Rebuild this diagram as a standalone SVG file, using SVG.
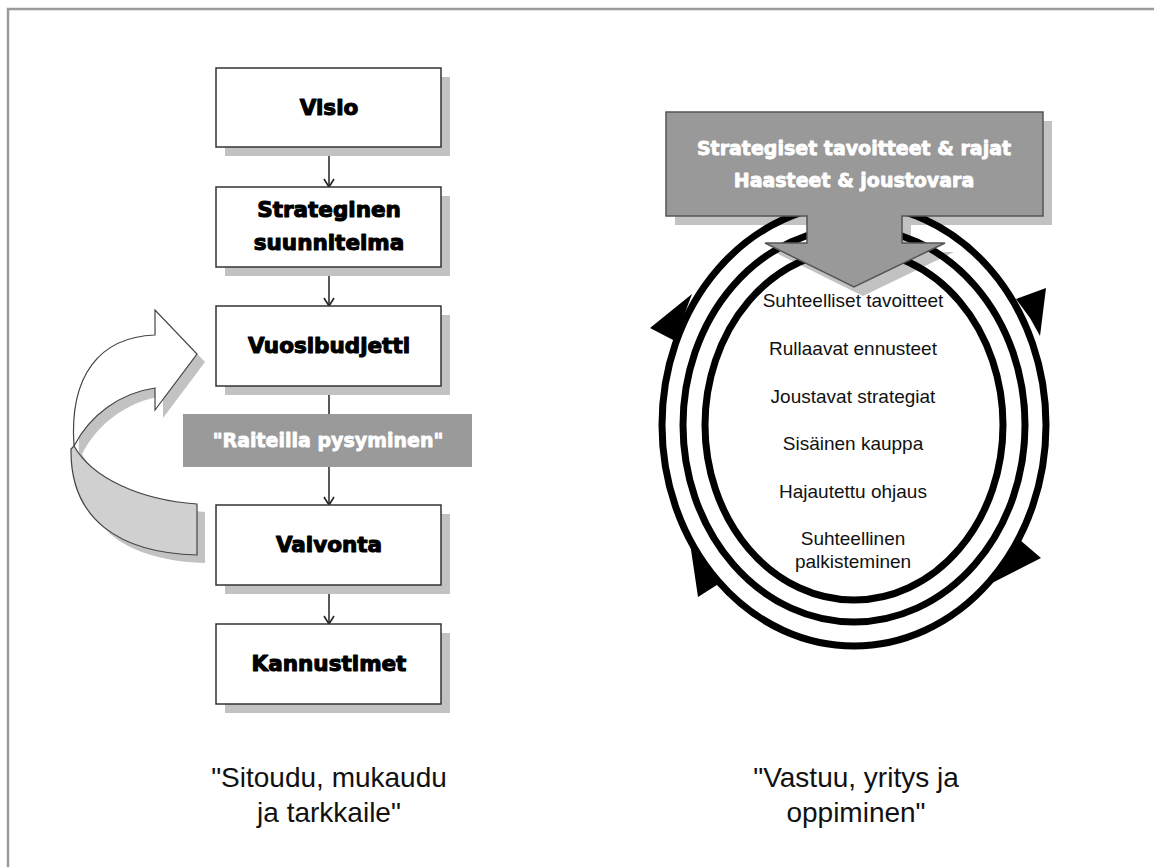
<svg xmlns="http://www.w3.org/2000/svg" width="1154" height="867" viewBox="0 0 1154 867">
<defs>
<style>
.box{fill:#fff;stroke:#333;stroke-width:1.5}
.shadow{fill:#c2c2c2}
.btxt{font-family:"DejaVu Sans",sans-serif;font-weight:bold;font-size:21.5px;fill:#000;stroke:#000;stroke-width:1.1;stroke-linejoin:round;text-anchor:middle}
.wtxt{font-family:"DejaVu Sans",sans-serif;font-weight:bold;font-size:19px;fill:#fff;stroke:#fff;stroke-width:0.8;stroke-linejoin:round;text-anchor:middle}
.rtxt{font-family:"Liberation Sans",Arial,sans-serif;font-size:19px;fill:#111;text-anchor:middle}
.cap{font-family:"Liberation Sans",Arial,sans-serif;font-size:28px;fill:#111;text-anchor:middle}
.conn{stroke:#222;stroke-width:1.5;fill:none}
.ring{fill:none;stroke:#000;stroke-width:7}
</style>
<marker id="arr" viewBox="0 0 12 12" refX="11" refY="6" markerWidth="12" markerHeight="12" markerUnits="userSpaceOnUse" orient="auto">
<path d="M3,1 L11,6 L3,11" fill="none" stroke="#222" stroke-width="1.6"/>
</marker>
</defs>
<rect width="1154" height="867" fill="#fff"/>
<rect x="8" y="9" width="1300" height="1000" fill="none" stroke="#9a9a9a" stroke-width="2.5"/>

<g id="loop-arrow">
<path class="shadow" d="M163,343 L163,318 L205,362 L163,418 L163,396 C128,401 98,423 82,454 C100,486 148,508 205,512 L205,563 C128,561 78,528 79,457 C77,383 108,345 163,343 Z"/>
<path d="M155,335 L155,310 L197,354 L155,410 L155,388 C120,393 90,415 74,446 C69,375 100,337 155,335 Z" fill="#fff" stroke="#444" stroke-width="1.2"/>
<path d="M74,446 C92,478 140,500 197,504 L197,555 C120,553 70,520 71,449 Z" fill="#d0d0d0" stroke="#444" stroke-width="1.2"/>
</g>

<g id="connectors">
<line class="conn" x1="329" y1="147" x2="329" y2="187" marker-end="url(#arr)"/>
<line class="conn" x1="329" y1="267" x2="329" y2="306" marker-end="url(#arr)"/>
<line class="conn" x1="329" y1="386" x2="329" y2="414"/>
<line class="conn" x1="329" y1="467" x2="329" y2="505" marker-end="url(#arr)"/>
<line class="conn" x1="329" y1="585" x2="329" y2="624" marker-end="url(#arr)"/>
</g>

<g id="visio">
<rect class="shadow" x="225" y="77" width="225" height="79"/>
<rect class="box" x="216" y="68" width="225" height="79"/>
<text class="btxt" x="329" y="115">Visio</text>
</g>
<g id="strateginen">
<rect class="shadow" x="225" y="196" width="225" height="80"/>
<rect class="box" x="216" y="187" width="225" height="80"/>
<text class="btxt" x="329" y="217">Strateginen</text>
<text class="btxt" x="329" y="250">suunnitelma</text>
</g>
<g id="vuosibudjetti">
<rect class="shadow" x="225" y="315" width="225" height="80"/>
<rect class="box" x="216" y="306" width="225" height="80"/>
<text class="btxt" x="329" y="353">Vuosibudjetti</text>
</g>
<g id="raiteilla">
<rect x="183" y="414" width="289" height="53" fill="#9a9a9a"/>
<text class="wtxt" x="328" y="447">"Raiteilla pysyminen"</text>
</g>
<g id="valvonta">
<rect class="shadow" x="225" y="514" width="225" height="80"/>
<rect class="box" x="216" y="505" width="225" height="80"/>
<text class="btxt" x="329" y="552">Valvonta</text>
</g>
<g id="kannustimet">
<rect class="shadow" x="225" y="633" width="225" height="80"/>
<rect class="box" x="216" y="624" width="225" height="80"/>
<text class="btxt" x="329" y="671">Kannustimet</text>
</g>

<g id="cycle">
<path class="shadow" d="M675,121 H1052 V225 H911 V252 H954 L863,296 L774,252 H816 V225 H675 Z" fill="#c4c4c4"/>
<ellipse class="ring" cx="854" cy="425" rx="192" ry="221"/>
<ellipse class="ring" cx="854" cy="425" rx="171" ry="197"/>
<ellipse class="ring" cx="854" cy="425" rx="149" ry="175"/>
<polygon points="650,328 692,294 683,318 675,341" fill="#000"/>
<polygon points="1046,288 1016,299 1030,318 1040,336" fill="#000"/>
<polygon points="690,543 707,566 720,583 698,597" fill="#000"/>
<polygon points="1020,540 1041,558 992,583 1006,562" fill="#000"/>
</g>

<g id="goals">
<path d="M666,112 H1043 V216 H902 V243 H945 L854,287 L765,243 H807 V216 H666 Z" fill="#999" stroke="#555" stroke-width="1.5"/>
<text class="wtxt" x="854" y="155">Strategiset tavoitteet &amp; rajat</text>
<text class="wtxt" x="854" y="187">Haasteet &amp; joustovara</text>
</g>

<g id="ring-texts">
<text class="rtxt" x="853" y="307">Suhteelliset tavoitteet</text>
<text class="rtxt" x="853" y="355">Rullaavat ennusteet</text>
<text class="rtxt" x="853" y="403">Joustavat strategiat</text>
<text class="rtxt" x="853" y="450">Sisäinen kauppa</text>
<text class="rtxt" x="853" y="498">Hajautettu ohjaus</text>
<text class="rtxt" x="853" y="545">Suhteellinen</text>
<text class="rtxt" x="853" y="568">palkisteminen</text>
</g>

<g id="captions">
<text class="cap" x="329" y="787">"Sitoudu, mukaudu</text>
<text class="cap" x="329" y="822">ja tarkkaile"</text>
<text class="cap" x="856" y="787">"Vastuu, yritys ja</text>
<text class="cap" x="856" y="822">oppiminen"</text>
</g>
</svg>
